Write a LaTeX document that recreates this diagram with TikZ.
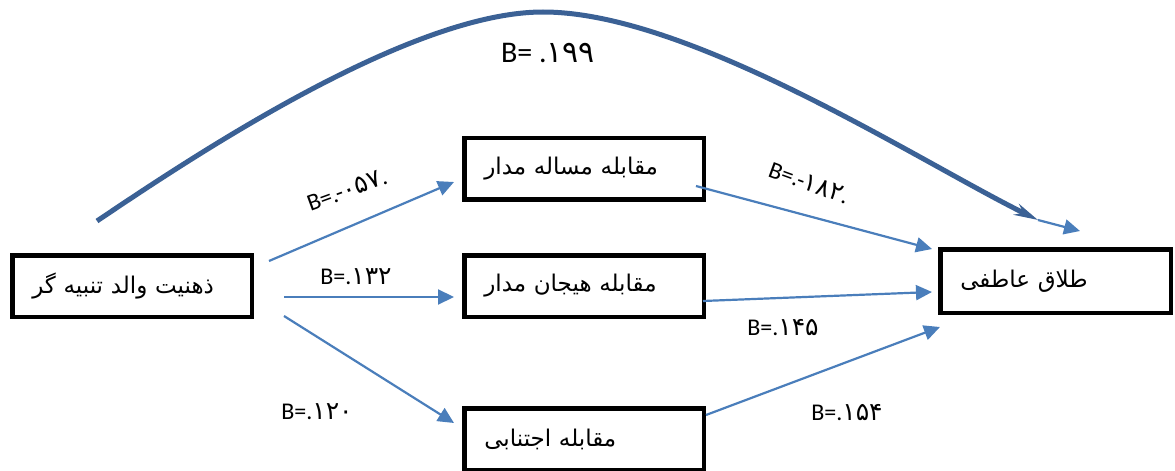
\documentclass[tikz,border=0pt]{standalone}
\usepackage{fontspec}
\setmainfont{Carlito}
\newfontfamily\arabicfont[Script=Arabic]{DejaVu Sans}
\TeXXeTstate=1
\usepackage{tikz}
\usetikzlibrary{arrows.meta,calc}
\definecolor{curveblue}{HTML}{3B6195}
\definecolor{arrowblue}{HTML}{4A7EBB}
\newcommand{\fadigits}[1]{{\arabicfont\fontsize{12.5}{14}\selectfont #1}}

\begin{document}
\begin{tikzpicture}[x=0.5pt,y=-0.5pt,
    box/.style={draw,line width=2.25pt,minimum height=30.75pt,text width=99.75pt,
        inner xsep=10pt,align=left,font=\arabicfont\fontsize{11.5}{13}\selectfont},
    link/.style={-{Triangle[length=8pt,width=7.5pt]},line width=1.1pt,arrowblue},
    coef/.style={font=\fontsize{12}{14}\selectfont,inner sep=0pt}]
    \useasboundingbox (0,0) rectangle (1175,471);

    % Variables
    \node[box] (parent) at (132,286) {\beginR ذهنیت والد تنبیه گر\endR};
    \node[box] (problem) at (584,168.5) {\beginR مقابله مساله مدار\endR};
    \node[box] (emotion) at (584,286) {\beginR مقابله هیجان مدار\endR};
    \node[box] (avoid) at (584,439) {\beginR مقابله اجتنابی\endR};
    \node[box,text width=95.25pt,minimum height=31.75pt] (divorce) at (1055.5,281) {\beginR طلاق عاطفی\endR};

    % Indirect paths
    \draw[link] ($(parent.east)+(15,-25)$) -- ($(problem.west)+(-8,13.5)$);
    \draw[link] ($(parent.east)+(30,11)$) -- ($(emotion.west)+(-8,11)$);
    \draw[link] ($(parent.east)+(30,30)$) -- ($(avoid.west)+(-8,-16)$);
    \draw[link] ($(problem.east)+(-10,17.5)$) -- ($(divorce.west)+(-6,-32)$);
    \draw[link] ($(emotion.east)+(-3,15)$) -- ($(divorce.west)+(-6,11)$);
    \draw[link] ($(avoid.east)+(0,-24)$) -- ($(divorce.west)+(2,46)$);

    % Direct path
    \coordinate (curvestart) at (97,221);
    \coordinate (curveend) at (1038,220);
    \coordinate (curvetip) at (1080,231);
    \draw[line width=2.5pt,curveblue,-{Stealth[length=12pt,width=6pt]}]
        (curvestart) .. controls (195,155) and (410,12) .. (543,12)
        .. controls (690,12) and (920,162) .. (curveend);
    \draw[link] (curveend) -- (curvetip);

    % Coefficients
    \node[coef,font=\fontsize{15}{17}\selectfont] (bdirect) at (548,53) {B= .{\arabicfont ۱۹۹}};
    \node[coef,rotate=20] (bproblem) at (347,190) {B=.-\fadigits{۰۵۷}.};
    \node[coef] (bemotion) at (356,277) {B=.\fadigits{۱۳۲}};
    \node[coef] (bavoid) at (317,412) {B=.\fadigits{۱۲۰}};
    \node[coef,rotate=-20] (bproblemdiv) at (809,183) {B=.-\fadigits{۱۸۲}.};
    \node[coef] (bemotiondiv) at (783,328) {B=.\fadigits{۱۴۵}};
    \node[coef] (bavoiddiv) at (847,413) {B=.\fadigits{۱۵۴}};
\end{tikzpicture}
\end{document}
